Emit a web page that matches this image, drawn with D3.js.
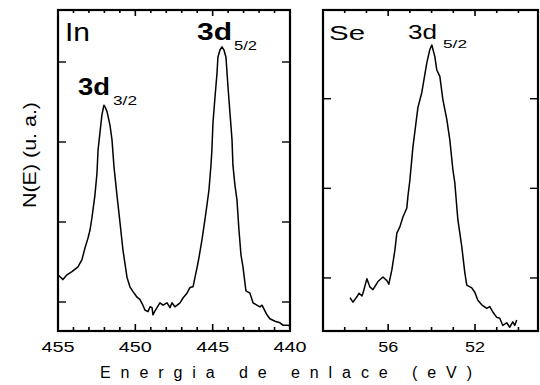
<!DOCTYPE html>
<html>
<head>
<meta charset="utf-8">
<script src="https://cdn.jsdelivr.net/npm/d3@7"></script>
<style>
  body { margin: 0; background: #fff; }
  svg { display: block; }
  text { font-family: Arial, "Liberation Sans", sans-serif; fill: #000; }
</style>
</head>
<body>
<svg id="chart" width="540" height="385"></svg>
<script>
// In 3d spectrum (binding energy eV, intensity a.u.)
const inEnergy = [455.0, 454.68, 454.42, 454.10, 453.71, 453.45, 453.25, 453.06, 452.93, 452.80,
  452.61, 452.48, 452.41, 452.29, 452.16, 452.03, 451.96, 451.83, 451.64, 451.51,
  451.38, 451.19, 450.99, 450.80, 450.54, 450.35, 450.15, 449.89, 449.70, 449.51,
  449.38, 449.18, 449.05, 448.92, 448.86, 448.73, 448.60, 448.41, 448.21, 447.95,
  447.76, 447.63, 447.44, 447.11, 446.92, 446.66, 446.47, 446.27, 446.14, 446.01,
  445.89, 445.69, 445.50, 445.37, 445.24, 445.11, 445.05, 444.98, 444.85, 444.72,
  444.66, 444.53, 444.40, 444.27, 444.14, 444.01, 443.88, 443.75, 443.69, 443.56,
  443.43, 443.30, 443.17, 443.04, 442.85, 442.59, 442.39, 442.14, 441.94, 441.81,
  441.68, 441.49, 441.30, 440.97, 440.65, 440.46, 440.13, 440.0];
const inCounts = [1.34, 1.28, 1.34, 1.38, 1.44, 1.53, 1.68, 1.80, 1.90, 2.06,
  2.34, 2.61, 2.90, 3.11, 3.34, 3.46, 3.44, 3.38, 3.21, 3.03,
  2.69, 2.34, 1.99, 1.65, 1.31, 1.19, 1.13, 1.06, 1.03, 0.96,
  0.90, 0.88, 0.94, 0.93, 0.84, 0.89, 0.93, 0.99, 0.96, 0.99,
  0.93, 0.99, 0.94, 0.99, 1.05, 1.11, 1.18, 1.19, 1.31, 1.43,
  1.55, 1.78, 2.03, 2.21, 2.40, 2.71, 2.90, 3.24, 3.56, 3.86,
  4.06, 4.15, 4.19, 4.15, 4.06, 3.69, 3.36, 3.03, 2.71, 2.46,
  2.28, 1.90, 1.59, 1.44, 1.14, 1.11, 0.99, 0.96, 0.94, 0.96,
  0.91, 0.84, 0.79, 0.76, 0.74, 0.71, 0.71, 0.70];

// Se 3d spectrum
const seEnergy = [57.76, 57.62, 57.44, 57.34, 57.21, 57.16, 56.98, 56.84, 56.70, 56.47,
  56.24, 56.06, 55.97, 55.83, 55.69, 55.60, 55.46, 55.32, 55.14, 55.09,
  55.00, 54.86, 54.63, 54.45, 54.22, 54.08, 53.99, 53.85, 53.76, 53.62,
  53.48, 53.30, 53.16, 53.02, 52.93, 52.79, 52.61, 52.47, 52.38, 52.15,
  52.01, 51.87, 51.69, 51.46, 51.32, 51.18, 51.00, 50.86, 50.72, 50.54,
  50.40, 50.26, 50.17, 50.08];
const seCounts = [0.78, 0.73, 0.79, 0.83, 0.80, 0.83, 0.99, 0.90, 0.87, 0.96,
  1.01, 0.97, 0.93, 1.09, 1.31, 1.50, 1.57, 1.68, 1.78, 1.91,
  2.09, 2.46, 2.90, 3.07, 3.40, 3.55, 3.60, 3.47, 3.32, 3.25,
  2.99, 2.77, 2.54, 2.21, 2.06, 1.65, 1.35, 1.06, 0.92, 0.89,
  0.84, 0.75, 0.70, 0.66, 0.68, 0.62, 0.56, 0.55, 0.47, 0.50,
  0.45, 0.51, 0.47, 0.53];

const inTickLabels = [455, 450, 445, 440];
const seTickLabels = [56, 52];
const inYTicks = [1, 2, 3, 4];
const seYTicks = [1, 2, 3];

const svg = d3.select("#chart");
const plotTop = 10, plotBottom = 331;

/**
 * Draws one framed panel with inward ticks on all four sides
 */
function drawPanel(opts) {
  const { x, y, energy, counts, labels, yTicks, minorStep, labelWidth } = opts;
  const g = svg.append("g");
  const [x0, x1] = x.range();

  const minor = d3.range(Math.ceil(Math.min(...x.domain())), Math.max(...x.domain()) + 0.001, minorStep);
  minor.forEach((v) => {
    const big = labels.includes(v);
    const len = big ? 7 : 4;
    g.append("line").attr("x1", x(v)).attr("x2", x(v))
      .attr("y1", plotBottom).attr("y2", plotBottom - len)
      .attr("stroke", "#000").attr("stroke-width", 1.6);
    g.append("line").attr("x1", x(v)).attr("x2", x(v))
      .attr("y1", plotTop).attr("y2", plotTop + (big ? 6 : 3))
      .attr("stroke", "#000").attr("stroke-width", 1.6);
  });

  yTicks.forEach((v) => {
    g.append("line").attr("x1", x0).attr("x2", x0 + 8)
      .attr("y1", y(v)).attr("y2", y(v)).attr("stroke", "#000").attr("stroke-width", 1.4);
    g.append("line").attr("x1", x1).attr("x2", x1 - 8)
      .attr("y1", y(v)).attr("y2", y(v)).attr("stroke", "#000").attr("stroke-width", 1.4);
  });

  labels.forEach((v) => {
    g.append("text")
      .attr("x", x(v) - labelWidth / 2).attr("y", 352)
      .attr("font-size", "14px")
      .attr("textLength", labelWidth).attr("lengthAdjust", "spacingAndGlyphs")
      .text(v);
  });

  const line = d3.line().x((d, i) => x(energy[i])).y((d) => y(d));
  g.append("path").datum(counts)
    .attr("d", line).attr("fill", "none")
    .attr("stroke", "#000").attr("stroke-width", 1.5)
    .attr("stroke-linejoin", "round");

  g.append("rect")
    .attr("x", x0).attr("y", plotTop)
    .attr("width", x1 - x0).attr("height", plotBottom - plotTop)
    .attr("fill", "none").attr("stroke", "#000").attr("stroke-width", 2.2);
  return g;
}

const xIn = d3.scaleLinear().domain([455, 440]).range([58, 290]);
const yIn = d3.scaleLinear().domain([0.6375, 4.65]).range([plotBottom, plotTop]);
const xSe = d3.scaleLinear().domain([59, 49.1]).range([323, 538]);
const ySe = d3.scaleLinear().domain([0.408, 3.99]).range([plotBottom, plotTop]);

drawPanel({ x: xIn, y: yIn, energy: inEnergy, counts: inCounts, labels: inTickLabels,
  yTicks: inYTicks, minorStep: 1, labelWidth: 33 });
drawPanel({ x: xSe, y: ySe, energy: seEnergy, counts: seCounts, labels: seTickLabels,
  yTicks: seYTicks, minorStep: 1, labelWidth: 20 });

// stretched text helper (the original figure is wider than plain Arial)
function label(x, y, str, size, width, weight) {
  return svg.append("text")
    .attr("x", x).attr("y", y)
    .attr("font-size", size + "px")
    .attr("font-weight", weight || "normal")
    .attr("textLength", width).attr("lengthAdjust", "spacingAndGlyphs")
    .text(str);
}

label(65, 41, "In", 25, 25);
label(197, 40, "3d", 23, 35, "bold");
label(234, 50, "5/2", 12, 23);
label(78, 95, "3d", 23, 32, "bold");
label(113, 105, "3/2", 12, 24);

label(329, 40, "Se", 21, 36);
label(408, 39, "3d", 21, 29);
label(443, 48, "5/2", 11, 24);

// axis titles
svg.append("text")
  .attr("x", 100).attr("y", 378)
  .attr("font-size", "16px")
  .attr("textLength", 372).attr("lengthAdjust", "spacing")
  .text("Energia de enlace (eV)");

svg.append("text")
  .attr("transform", "translate(36,208) rotate(-90)")
  .attr("font-size", "18px")
  .attr("textLength", 106).attr("lengthAdjust", "spacingAndGlyphs")
  .text("N(E) (u. a.)");
</script>
</body>
</html>
